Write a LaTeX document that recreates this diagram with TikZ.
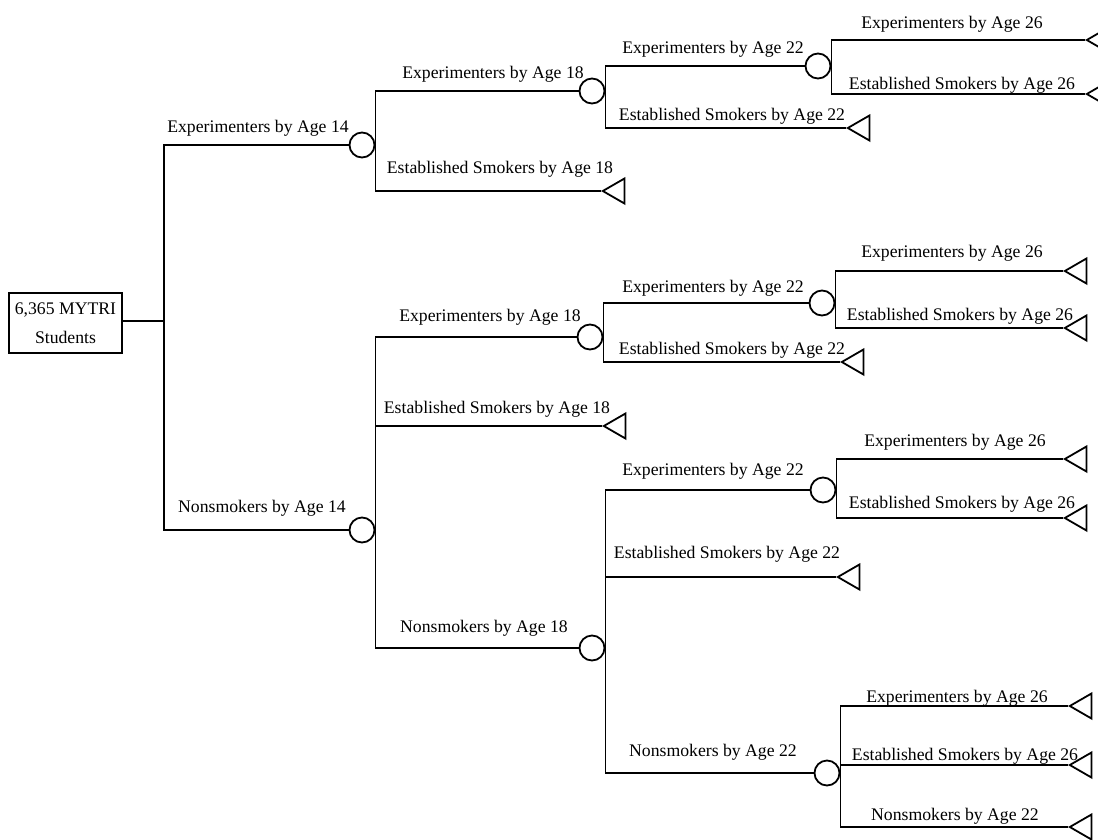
\documentclass[tikz,border=0pt]{standalone}
\usepackage{fontspec}
\setmainfont{Liberation Serif}
\usetikzlibrary{shapes.geometric}
\begin{document}
\begin{tikzpicture}[x=1pt,y=-1pt,line width=1.8pt,
    chance/.style={draw,circle,minimum size=25pt,inner sep=0pt},
    term/.style={draw,regular polygon,regular polygon sides=3,shape border rotate=90,
      minimum size=29pt,inner sep=0pt,anchor=corner 1},
    lab/.style={anchor=base,inner sep=0pt,font=\fontsize{17.7}{20}\selectfont}]
  \useasboundingbox (0,0) rectangle (1098,839);
  % root
  \node[draw,align=center,minimum width=113pt,minimum height=60pt,inner sep=0pt,
    font=\fontsize{17.7}{29}\selectfont] (root) at (65.5,323) {6,365 MYTRI\\Students};
  \coordinate (j0) at (164,321);
  % chance nodes
  \node[chance] (c14e) at (362,145) {};
  \node[chance] (c14n) at (362,530) {};
  \node[chance] (c18ea) at (592,91) {};
  \node[chance] (c22ea) at (818,66) {};
  \node[chance] (c18eb) at (590,337) {};
  \node[chance] (c22eb) at (822,303) {};
  \node[chance] (c18n) at (592,648) {};
  \node[chance] (c22ec) at (823,490) {};
  \node[chance] (c22n) at (827,773) {};
  % end nodes
  \node[term] (t18sa) at (601,191) {};
  \node[term] (t22sa) at (846,128) {};
  \node[term] (t26ea) at (1085,40) {};
  \node[term] (t26sa) at (1085,94) {};
  \node[term] (t18sb) at (602,426) {};
  \node[term] (t22sb) at (840,362) {};
  \node[term] (t26eb) at (1063,271) {};
  \node[term] (t26sb) at (1063,328) {};
  \node[term] (t22sc) at (836,577) {};
  \node[term] (t26ec) at (1063,459) {};
  \node[term] (t26sc) at (1063,518) {};
  \node[term] (t26ed) at (1068,706) {};
  \node[term] (t26sd) at (1068,765) {};
  \node[term] (t22nd) at (1068,827) {};
  % branches
  \begin{scope}[-]
    \draw (root.east |- j0) -- (j0) |- (c14e.west);
    \draw (j0) |- (c14n.west);
    \draw (c14e.east) |- (c18ea.west);
    \draw (c14e.east) |- (t18sa.corner 1);
    \draw (c18ea.east) |- (c22ea.west);
    \draw (c18ea.east) |- (t22sa.corner 1);
    \draw (c22ea.east) |- (t26ea.corner 1);
    \draw (c22ea.east) |- (t26sa.corner 1);
    \draw (c14n.east) |- (c18eb.west);
    \draw (c14n.east) |- (t18sb.corner 1);
    \draw (c14n.east) |- (c18n.west);
    \draw (c18eb.east) |- (c22eb.west);
    \draw (c18eb.east) |- (t22sb.corner 1);
    \draw (c22eb.east) |- (t26eb.corner 1);
    \draw (c22eb.east) |- (t26sb.corner 1);
    \draw (c18n.east) |- (c22ec.west);
    \draw (c18n.east) |- (t22sc.corner 1);
    \draw (c18n.east) |- (c22n.west);
    \draw (c22ec.east) |- (t26ec.corner 1);
    \draw (c22ec.east) |- (t26sc.corner 1);
    \draw (c22n.east) |- (t26ed.corner 1);
    \draw (c22n.east) |- (t26sd.corner 1);
    \draw (c22n.east) |- (t22nd.corner 1);
  \end{scope}
  % labels
  \node[lab] (l14e) at (258,132) {Experimenters by Age 14};
  \node[lab] (l14n) at (262,512) {Nonsmokers by Age 14};
  \node[lab] (l18ea) at (493,78) {Experimenters by Age 18};
  \node[lab] (l18sa) at (500,173) {Established Smokers by Age 18};
  \node[lab] (l22ea) at (713,53) {Experimenters by Age 22};
  \node[lab] (l22sa) at (732,120) {Established Smokers by Age 22};
  \node[lab] (l26ea) at (952,28) {Experimenters by Age 26};
  \node[lab] (l26sa) at (962,89) {Established Smokers by Age 26};
  \node[lab] (l18eb) at (490,321) {Experimenters by Age 18};
  \node[lab] (l18sb) at (497,413) {Established Smokers by Age 18};
  \node[lab] (l22eb) at (713,292) {Experimenters by Age 22};
  \node[lab] (l22sb) at (732,354) {Established Smokers by Age 22};
  \node[lab] (l26eb) at (952,257) {Experimenters by Age 26};
  \node[lab] (l26sb) at (960,320) {Established Smokers by Age 26};
  \node[lab] (l18n) at (484,632) {Nonsmokers by Age 18};
  \node[lab] (l22ec) at (713,475) {Experimenters by Age 22};
  \node[lab] (l22sc) at (727,558) {Established Smokers by Age 22};
  \node[lab] (l26ec) at (955,446) {Experimenters by Age 26};
  \node[lab] (l26sc) at (962,508) {Established Smokers by Age 26};
  \node[lab] (l22nd) at (713,756) {Nonsmokers by Age 22};
  \node[lab] (l26ed) at (957,702) {Experimenters by Age 26};
  \node[lab] (l26sd) at (965,760) {Established Smokers by Age 26};
  \node[lab] (l22ne) at (955,820) {Nonsmokers by Age 22};
\end{tikzpicture}
\end{document}
